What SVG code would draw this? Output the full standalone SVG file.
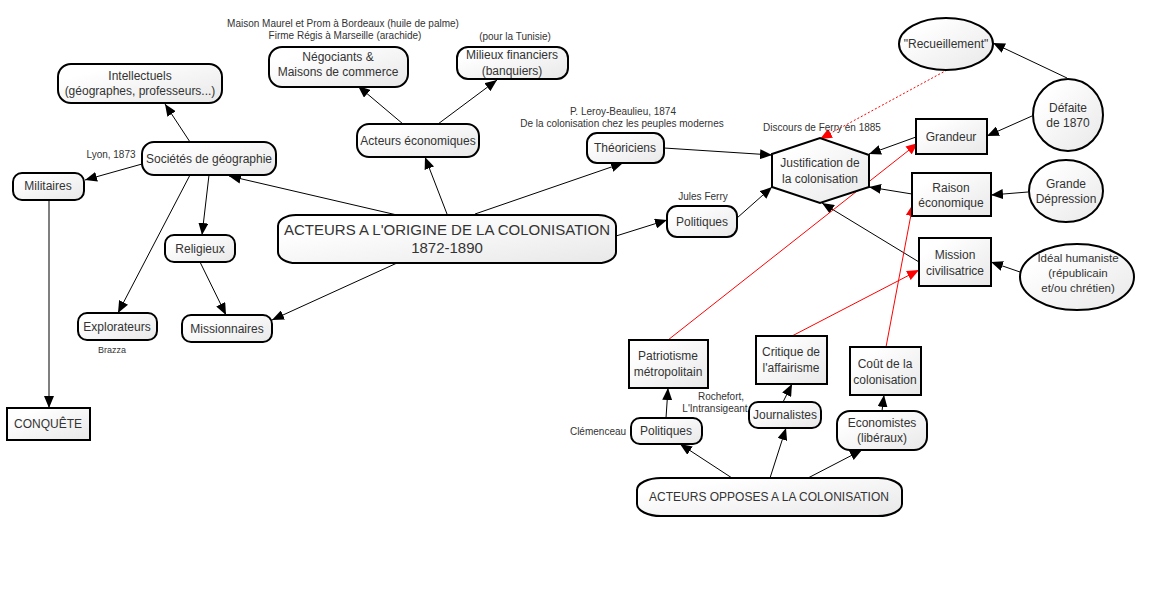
<svg xmlns="http://www.w3.org/2000/svg" width="1150" height="600" viewBox="0 0 1150 600">
<defs>
<linearGradient id="g" x1="0" y1="0" x2="1" y2="1">
<stop offset="0.2" stop-color="#ffffff"/>
<stop offset="1" stop-color="#e8e8e8"/>
</linearGradient>
<marker id="a" markerWidth="12" markerHeight="10" refX="12" refY="5" orient="auto" markerUnits="userSpaceOnUse">
<path d="M0,0 L12,5 L0,10 z" fill="#000"/>
</marker>
<marker id="r" markerWidth="12" markerHeight="10" refX="12" refY="5" orient="auto" markerUnits="userSpaceOnUse">
<path d="M0,0 L12,5 L0,10 z" fill="#f00"/>
</marker>
</defs>
<style>
.n{fill:url(#g);stroke:#000;stroke-width:2}
.t{font-family:"Liberation Sans",Arial,sans-serif;font-size:12px;fill:#333;text-anchor:middle}
.s{font-family:"Liberation Sans",Arial,sans-serif;font-size:10px;fill:#333;text-anchor:middle}
.c line{stroke:#000;stroke-width:1;marker-end:url(#a)}
.c line.red{stroke:#f00;marker-end:url(#r)}
</style>
<rect width="1150" height="600" fill="#fff"/>
<g class="c" id="connectors">
<line x1="190" y1="142" x2="165" y2="104"/>
<line x1="142" y1="164" x2="85" y2="180"/>
<line x1="190" y1="175" x2="118" y2="313"/>
<line x1="209" y1="175" x2="202" y2="235"/>
<line x1="200" y1="262" x2="226" y2="315"/>
<line x1="397" y1="215" x2="229" y2="176"/>
<line x1="447" y1="214" x2="425" y2="157"/>
<line x1="475" y1="214" x2="623" y2="163"/>
<line x1="616" y1="236" x2="667" y2="220"/>
<line x1="397" y1="263" x2="272" y2="320"/>
<line x1="403" y1="124" x2="358" y2="86"/>
<line x1="438" y1="124" x2="497" y2="80"/>
<line x1="664" y1="148" x2="772" y2="155"/>
<line x1="737" y1="218" x2="772" y2="187"/>
<line x1="916" y1="137" x2="869" y2="154"/>
<line x1="912" y1="194" x2="869" y2="187"/>
<line x1="919" y1="262" x2="822" y2="203"/>
<line x1="1067" y1="78" x2="993" y2="43"/>
<line x1="1032" y1="116" x2="987" y2="136"/>
<line x1="1028" y1="192" x2="991" y2="195"/>
<line x1="1020" y1="272" x2="991" y2="262"/>
<line x1="947" y1="70" x2="820" y2="139" class="red" stroke-dasharray="2,2"/>
<line x1="668" y1="340" x2="918" y2="143" class="red"/>
<line x1="792" y1="336" x2="919" y2="270" class="red"/>
<line x1="886" y1="347" x2="913" y2="204" class="red"/>
<line x1="666" y1="418" x2="668" y2="388"/>
<line x1="783" y1="402" x2="792" y2="384"/>
<line x1="882" y1="411" x2="884" y2="395"/>
<line x1="732" y1="478" x2="680" y2="444"/>
<line x1="770" y1="478" x2="786" y2="428"/>
<line x1="808" y1="478" x2="862" y2="450"/>
<line x1="49" y1="200" x2="49" y2="408" style="stroke:#555;stroke-width:1.5"/>
</g>
<g id="intellectuels"><rect class="n" x="58" y="64" width="164" height="39" rx="13"/><text class="t" x="140" y="80">Intellectuels</text><text class="t" x="140" y="95">(géographes, professeurs...)</text></g>
<g id="societes"><rect class="n" x="142" y="142" width="134" height="33" rx="12"/><text class="t" x="209" y="163">Sociétés de géographie</text><text class="s" x="111" y="158">Lyon, 1873</text></g>
<g id="militaires"><rect class="n" x="13" y="173" width="71" height="27" rx="9"/><text class="t" x="48" y="190">Militaires</text></g>
<g id="religieux"><rect class="n" x="165" y="235" width="70" height="27" rx="9"/><text class="t" x="200" y="253">Religieux</text></g>
<g id="explorateurs"><rect class="n" x="78" y="313" width="79" height="27" rx="9"/><text class="t" x="117" y="331">Explorateurs</text><text class="s" x="112" y="353" style="font-size:9px">Brazza</text></g>
<g id="missionnaires"><rect class="n" x="182" y="315" width="90" height="27" rx="9"/><text class="t" x="227" y="333">Missionnaires</text></g>
<g id="conquete"><rect class="n" x="7" y="408" width="83" height="32"/><text class="t" x="48" y="428">CONQUÊTE</text></g>
<g id="origine"><rect class="n" x="278" y="215" width="338" height="48" rx="18" ry="11"/><text class="t" x="447" y="235" style="font-size:15px">ACTEURS A L'ORIGINE DE LA COLONISATION</text><text class="t" x="447" y="253" style="font-size:15px">1872-1890</text></g>
<g id="economiques"><rect class="n" x="357" y="124" width="122" height="33" rx="12"/><text class="t" x="418" y="145">Acteurs économiques</text></g>
<g id="negociants"><rect class="n" x="269" y="47" width="139" height="40" rx="13"/><text class="t" x="338" y="61">Négociants &amp;</text><text class="t" x="338" y="76">Maisons de commerce</text><text class="s" x="343" y="27">Maison Maurel et Prom à Bordeaux (huile de palme)</text><text class="s" x="345" y="39">Firme Régis à Marseille (arachide)</text></g>
<g id="financiers"><rect class="n" x="457" y="47" width="111" height="32" rx="11"/><text class="t" x="512" y="59">Milieux financiers</text><text class="t" x="512" y="75">(banquiers)</text><text class="s" x="515" y="40">(pour la Tunisie)</text></g>
<g id="theoriciens"><rect class="n" x="587" y="133" width="77" height="30" rx="10"/><text class="t" x="625" y="152">Théoriciens</text><text class="s" x="623" y="115">P. Leroy-Beaulieu, 1874</text><text class="s" x="622" y="127">De la colonisation chez les peuples modernes</text></g>
<g id="politiques"><rect class="n" x="667" y="206" width="70" height="31" rx="10"/><text class="t" x="702" y="226">Politiques</text><text class="s" x="703" y="200">Jules Ferry</text></g>
<g id="justification"><polygon class="n" points="772,154 820,138 869,155 869,187 820,203 772,187"/><text class="t" x="820" y="167">Justification de</text><text class="t" x="820" y="183">la colonisation</text><text class="s" x="822" y="131">Discours de Ferry en 1885</text></g>
<g id="recueillement"><ellipse class="n" cx="946" cy="44" rx="47" ry="26"/><text class="t" x="946" y="48">"Recueillement"</text></g>
<g id="defaite"><ellipse class="n" cx="1068" cy="115" rx="35" ry="36"/><text class="t" x="1068" y="112">Défaite</text><text class="t" x="1068" y="127">de 1870</text></g>
<g id="grandeur"><rect class="n" x="916" y="119" width="71" height="35"/><text class="t" x="951" y="141">Grandeur</text></g>
<g id="raison"><rect class="n" x="912" y="173" width="79" height="43"/><text class="t" x="951" y="192">Raison</text><text class="t" x="951" y="207">économique</text></g>
<g id="depression"><ellipse class="n" cx="1066" cy="191" rx="37" ry="31"/><text class="t" x="1066" y="188">Grande</text><text class="t" x="1066" y="203">Dépression</text></g>
<g id="mission"><rect class="n" x="919" y="238" width="72" height="48"/><text class="t" x="955" y="259">Mission</text><text class="t" x="955" y="275">civilisatrice</text></g>
<g id="ideal"><ellipse class="n" cx="1077" cy="277" rx="57" ry="33"/><text class="t" x="1078" y="262" style="font-size:11.5px">Idéal humaniste</text><text class="t" x="1078" y="277" style="font-size:11.5px">(républicain</text><text class="t" x="1078" y="292" style="font-size:11.5px">et/ou chrétien)</text></g>
<g id="patriotisme"><rect class="n" x="629" y="340" width="79" height="48"/><text class="t" x="668" y="360">Patriotisme</text><text class="t" x="668" y="376">métropolitain</text></g>
<g id="critique"><rect class="n" x="756" y="336" width="71" height="48"/><text class="t" x="791" y="356">Critique de</text><text class="t" x="791" y="372">l'affairisme</text></g>
<g id="cout"><rect class="n" x="850" y="347" width="71" height="48"/><text class="t" x="885" y="368">Coût de la</text><text class="t" x="885" y="384">colonisation</text></g>
<g id="politiques-opp"><rect class="n" x="631" y="418" width="71" height="26" rx="9"/><text class="t" x="666" y="435">Politiques</text><text class="s" x="598" y="435">Clémenceau</text></g>
<g id="journalistes"><rect class="n" x="749" y="402" width="72" height="26" rx="9"/><text class="t" x="785" y="419">Journalistes</text><text class="s" x="721" y="400">Rochefort,</text><text class="s" x="715" y="412">L'Intransigeant</text></g>
<g id="economistes"><rect class="n" x="837" y="411" width="90" height="39" rx="13"/><text class="t" x="882" y="427">Economistes</text><text class="t" x="882" y="442">(libéraux)</text></g>
<g id="opposes"><rect class="n" x="637" y="478" width="265" height="38" rx="24" ry="12"/><text class="t" x="769" y="501">ACTEURS OPPOSES A LA COLONISATION</text></g>
</svg>
